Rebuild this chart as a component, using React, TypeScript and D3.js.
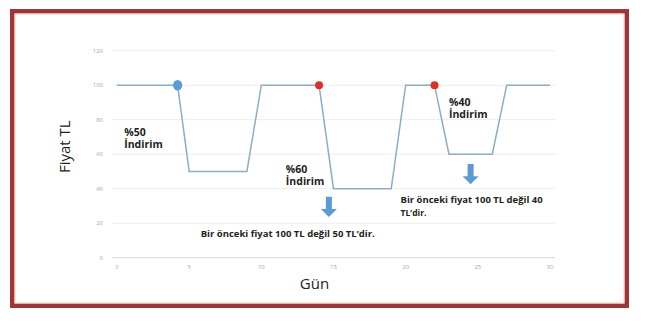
import React from "react";
import * as d3 from "d3";

const days = [0, 4.2, 5, 9, 10, 14, 15, 19, 20, 22, 23, 26, 27, 30];
const prices = [100, 100, 50, 50, 100, 100, 40, 40, 100, 100, 60, 60, 100, 100];
const yTicks = [0, 20, 40, 60, 80, 100, 120];
const xTicks = [0, 5, 10, 15, 20, 25, 30];
const markerDays = [4.2, 14, 22];
const markerPrices = [100, 100, 100];
const markerColors = ["#5b9bd5", "#d9302a", "#d9302a"];
const discountLabels = [["%50", "İndirim"], ["%60", "İndirim"], ["%40", "İndirim"]];
const discountX = [0.5, 11.7, 23.0];
const discountY = [70.7, 49.3, 88.1];
const noteLines = [["Bir önceki fiyat 100 TL değil 50 TL’dir."], ["Bir önceki fiyat 100 TL değil 40", "TL’dir."]];
const noteX = [5.8, 19.65];
const noteY = [12.2, 31.9];
const noteWidths = [174, 142];
const arrowX = [14.68, 24.5];
const arrowTop = [35.4, 54.3];
const arrowTip = [23.6, 42.6];

export default function App() {
  const W = 652, H = 326;
  const x = d3.scaleLinear().domain([0, 30]).range([117, 550]);
  const y = d3.scaleLinear().domain([0, 120]).range([257.7, 50.7]);
  const line = d3.line<number>().x((_, i) => x(days[i])).y((d) => y(d));
  const font = "'Open Sans', sans-serif";

  const arrowPath = (i: number) => {
    const cx = x(arrowX[i]);
    const t = y(arrowTop[i]);
    const b = y(arrowTip[i]);
    const headH = 8;
    const sw = 3, hw = 8;
    return `M${cx - sw},${t} L${cx + sw},${t} L${cx + sw},${b - headH} L${cx + hw},${b - headH} L${cx},${b} L${cx - hw},${b - headH} L${cx - sw},${b - headH} Z`;
  };

  return (
    <svg width={W} height={H} style={{ position: "absolute", left: 0, top: 0, background: "#fff" }}>
      <rect x={0} y={0} width={W} height={H} fill="#fff" />
      <rect x={12.25} y={11.25} width={614.5} height={294.5} fill="none" stroke="#9e3538" strokeWidth={4.5} />
      <rect x={15} y={14} width={609} height={289} fill="none" stroke="#f2cdb8" strokeWidth={1} />
      {yTicks.map((t) => (
        <g key={"y" + t}>
          <line x1={112} x2={555} y1={y(t)} y2={y(t)} stroke={t === 0 ? "#d8d8d8" : "#ececec"} strokeWidth={1} />
          <text x={103} y={y(t) + 2} textAnchor="end" fontSize={6} fill="#a8a8a8" fontFamily={font}>{t}</text>
        </g>
      ))}
      {xTicks.map((t) => (
        <text key={"x" + t} x={x(t)} y={269} textAnchor="middle" fontSize={6} fill="#a8a8a8" fontFamily={font}>{t}</text>
      ))}
      <path d={line(prices) || ""} fill="none" stroke="#8badc6" strokeWidth={1.5} />
      {markerDays.map((d, i) => (
        <ellipse key={"m" + i} cx={x(d)} cy={y(markerPrices[i])} rx={i === 0 ? 4.6 : 4} ry={i === 0 ? 5.2 : 4} fill={markerColors[i]} />
      ))}
      {discountLabels.map((lines, i) => (
        <text key={"d" + i} x={x(discountX[i])} y={y(discountY[i])} fontSize={10.5} fontWeight={700} fill="#222" fontFamily={font}>
          {lines.map((l, j) => (
            <tspan key={j} x={x(discountX[i])} dy={j === 0 ? 0 : 12.5}>{l}</tspan>
          ))}
        </text>
      ))}
      {noteLines.map((lines, i) => (
        <g key={"n" + i}>
          {lines.map((l, j) => (
            <text key={j} x={x(noteX[i])} y={y(noteY[i]) + j * 13.3} fontSize={8.5} fontWeight={700} fill="#222" fontFamily={font}
              textLength={j === 0 ? noteWidths[i] : undefined} lengthAdjust="spacingAndGlyphs">{l}</text>
          ))}
        </g>
      ))}
      {arrowX.map((_, i) => (
        <path key={"a" + i} d={arrowPath(i)} fill="#5b9bd5" />
      ))}
      <text transform={`translate(70,146.7) rotate(-90)`} textAnchor="middle" fontSize={15} fill="#222" fontFamily={font}>Fiyat TL</text>
      <text x={314.5} y={289} textAnchor="middle" fontSize={15} fill="#222" fontFamily={font}>Gün</text>
    </svg>
  );
}
